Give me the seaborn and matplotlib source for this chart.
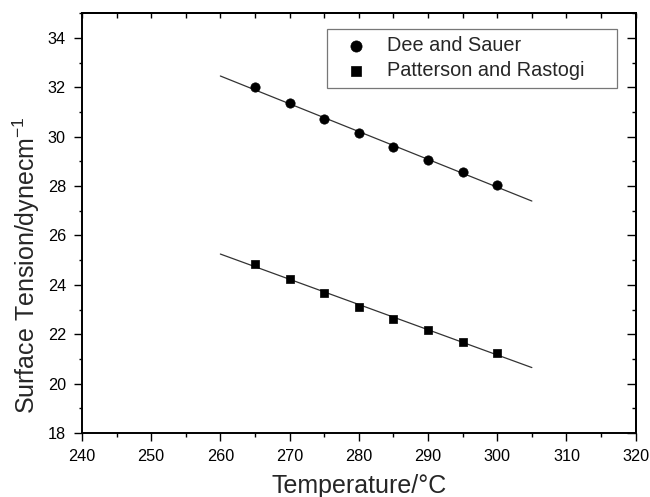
import numpy as np
import pandas as pd
import matplotlib
matplotlib.use("Agg")
import matplotlib.pyplot as plt
import seaborn as sns
from matplotlib.ticker import MultipleLocator

temps = [265, 270, 275, 280, 285, 290, 295, 300]
dee_sauer = [32.0, 31.35, 30.73, 30.14, 29.58, 29.04, 28.56, 28.04]
patterson_rastogi = [24.85, 24.24, 23.66, 23.12, 22.61, 22.15, 21.70, 21.25]
fit_range = [260, 305]

sns.set_theme(style="ticks")
plt.rcParams['font.family'] = ['Liberation Sans', 'DejaVu Sans']
plt.rcParams['mathtext.fontset'] = 'custom'
plt.rcParams['mathtext.rm'] = 'Liberation Sans'
plt.rcParams['mathtext.it'] = 'Liberation Sans'
plt.rcParams['mathtext.default'] = 'regular'

fig = plt.figure(figsize=(6.5, 4.97), dpi=100)
ax = fig.add_axes([0.126, 0.129, 0.852, 0.844])

for vals, marker, size, label in [(dee_sauer, "o", 45, "Dee and Sauer"),
                                  (patterson_rastogi, "s", 40, "Patterson and Rastogi")]:
    df = pd.DataFrame({"T": temps, "S": vals})
    k, b = np.polyfit(df["T"], df["S"], 1)
    fx = np.array(fit_range, dtype=float)
    sns.lineplot(x=fx, y=k * fx + b, ax=ax, color="#333333", linewidth=0.9, zorder=1)
    sns.scatterplot(data=df, x="T", y="S", ax=ax, marker=marker, s=size,
                    color="black", edgecolor="black", linewidth=0.5, label=label, zorder=2)

ax.set_xlim(240, 320)
ax.set_ylim(18, 35)
ax.xaxis.set_major_locator(MultipleLocator(10))
ax.xaxis.set_minor_locator(MultipleLocator(5))
ax.yaxis.set_major_locator(MultipleLocator(2))
ax.yaxis.set_minor_locator(MultipleLocator(1))
ax.tick_params(which="both", direction="out", top=False, right=False,
               width=1.0, colors="black", labelsize=11.7, pad=6)
ax.tick_params(axis="x", which="major", length=5.5)
ax.tick_params(axis="x", which="minor", length=3)
ax.tick_params(axis="y", which="major", length=5.5)
ax.tick_params(axis="y", which="minor", length=2.3)

topx = ax.secondary_xaxis("top")
topx.xaxis.set_major_locator(MultipleLocator(10))
topx.xaxis.set_minor_locator(MultipleLocator(5))
topx.tick_params(which="both", direction="in", length=3.8, width=1.0,
                 labeltop=False, colors="black")
righty = ax.secondary_yaxis("right")
righty.yaxis.set_major_locator(MultipleLocator(2))
righty.yaxis.set_minor_locator(MultipleLocator(1))
righty.tick_params(which="major", direction="in", length=6.5, width=1.0,
                   labelright=False, colors="black")
righty.tick_params(which="minor", direction="in", length=3.2, width=1.0,
                   labelright=False, colors="black")

for axx in (ax, topx, righty):
    for sp in axx.spines.values():
        sp.set_linewidth(1.4)
        sp.set_color("black")

ax.set_xlabel("Temperature/°C", fontsize=18, labelpad=7)
ax.set_ylabel("Surface Tension/dynecm$^{-1}$", fontsize=18)
ax.yaxis.set_label_coords(-0.072, 0.40)

leg = ax.legend(loc="upper left", bbox_to_anchor=(0.4422, 0.964, 0.5235, 0.0),
                mode="expand", fontsize=14.3, markerscale=1.2,
                frameon=True, fancybox=False, edgecolor="#555555",
                handlelength=2.1, handletextpad=0.55, borderpad=0.4,
                labelspacing=0.3, borderaxespad=0)
leg.get_frame().set_linewidth(0.9)

fig.savefig("out.png", dpi=100)
